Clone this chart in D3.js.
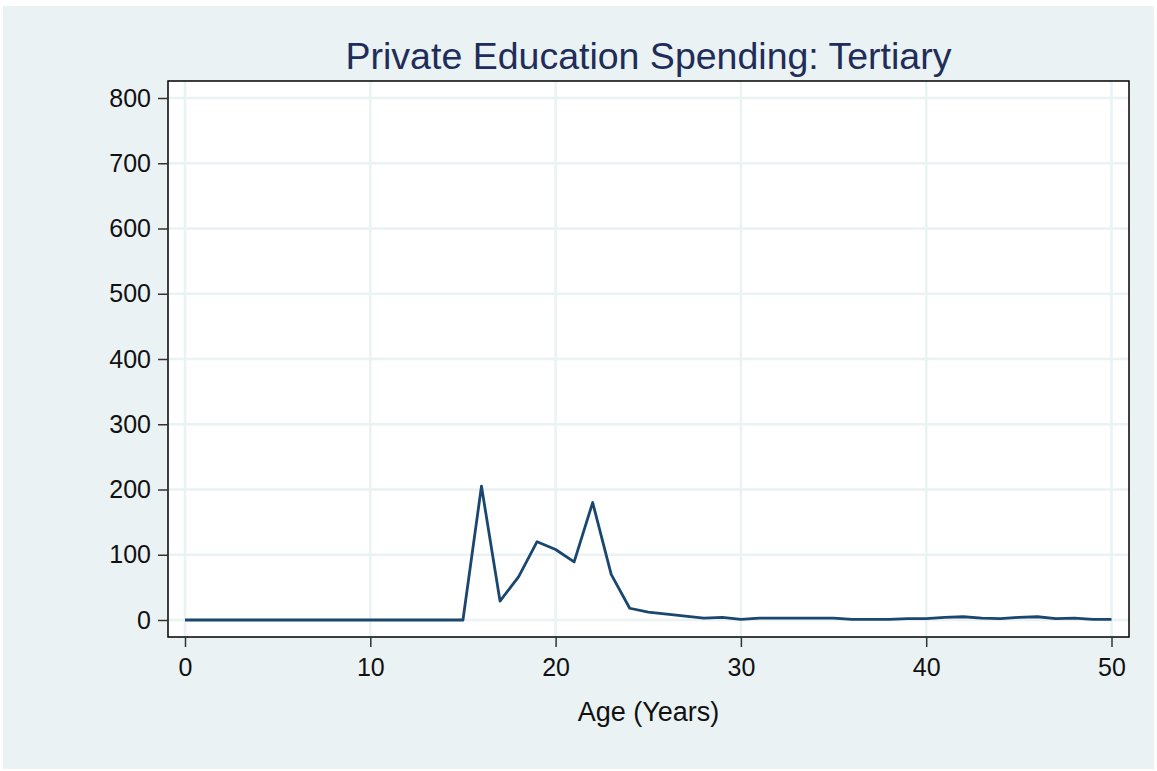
<!DOCTYPE html>
<html>
<head>
<meta charset="utf-8">
<script src="https://cdn.jsdelivr.net/npm/d3@7"></script>
<style>
  html, body { margin: 0; padding: 0; background: #ffffff; }
  svg { display: block; }
  text { font-family: "Liberation Sans", Arial, sans-serif; }
</style>
</head>
<body>
<svg id="chart" width="1157" height="771"></svg>
<script>
const titleText = "Private Education Spending: Tertiary";
const xLabel = "Age (Years)";
const ages = d3.range(0, 51);
const spending = [
  0, 0, 0, 0, 0, 0, 0, 0, 0, 0,
  0, 0, 0, 0, 0, 0, 205, 29, 66, 120,
  108, 89, 180, 70, 18, 12, 9, 6, 3, 4,
  1, 3, 3, 3, 3, 3, 1, 1, 1, 2,
  2, 4, 5, 3, 2, 4, 5, 2, 3, 1,
  1
];
const xTicks = [0, 10, 20, 30, 40, 50];
const yTicks = [0, 100, 200, 300, 400, 500, 600, 700, 800];

const W = 1157, H = 771;
const plot = { left: 168, top: 81, right: 1129, bottom: 637 };
const bg = "#eaf2f3";

const svg = d3.select("#chart");
svg.append("rect").attr("x", 3).attr("y", 6).attr("width", W - 6).attr("height", H - 8).attr("fill", bg);
svg.append("rect").attr("x", plot.left).attr("y", plot.top)
  .attr("width", plot.right - plot.left).attr("height", plot.bottom - plot.top)
  .attr("fill", "#ffffff");

const x = d3.scaleLinear().domain([0, 50]).range([185, 1111.5]);
const y = d3.scaleLinear().domain([0, 800]).range([620, 98]);

// grid
const g = svg.append("g");
g.selectAll("line.vx").data(xTicks).join("line")
  .attr("x1", d => x(d)).attr("x2", d => x(d))
  .attr("y1", plot.top).attr("y2", plot.bottom)
  .attr("stroke", bg).attr("stroke-width", 2.5);
g.selectAll("line.hy").data(yTicks).join("line")
  .attr("y1", d => y(d)).attr("y2", d => y(d))
  .attr("x1", plot.left).attr("x2", plot.right)
  .attr("stroke", bg).attr("stroke-width", 2.5);

// line
const line = d3.line().x((d, i) => x(ages[i])).y(d => y(d));
svg.append("path").datum(spending)
  .attr("d", line).attr("fill", "none")
  .attr("stroke", "#1a476f").attr("stroke-width", 2.8)
  .attr("stroke-linejoin", "round");

// border
svg.append("rect").attr("x", plot.left).attr("y", plot.top)
  .attr("width", plot.right - plot.left).attr("height", plot.bottom - plot.top)
  .attr("fill", "none").attr("stroke", "#000000").attr("stroke-width", 1.5);

// axes
const xAxis = d3.axisBottom(x).tickValues(xTicks).tickSize(10).tickPadding(11).tickFormat(d3.format("d"));
const xg = svg.append("g").attr("transform", `translate(0,${plot.bottom})`).call(xAxis);
xg.select(".domain").remove();
xg.selectAll("line").attr("stroke", "#333").attr("stroke-width", 1.5);
xg.selectAll("text").attr("font-size", 25).attr("fill", "#111").attr("font-family", "Liberation Sans, Arial, sans-serif");

const yAxis = d3.axisLeft(y).tickValues(yTicks).tickSize(10).tickPadding(7).tickFormat(d3.format("d"));
const yg = svg.append("g").attr("transform", `translate(${plot.left},0)`).call(yAxis);
yg.select(".domain").remove();
yg.selectAll("line").attr("stroke", "#333").attr("stroke-width", 1.5);
yg.selectAll("text").attr("font-size", 25).attr("fill", "#111").attr("font-family", "Liberation Sans, Arial, sans-serif");

svg.append("text").attr("x", (plot.left + plot.right) / 2).attr("y", 721)
  .attr("text-anchor", "middle").attr("font-size", 27).attr("fill", "#111")
  .text(xLabel);

svg.append("text").attr("x", (plot.left + plot.right) / 2).attr("y", 69)
  .attr("text-anchor", "middle").attr("font-size", 37.5).attr("fill", "#1e2d5a")
  .text(titleText);
</script>
</body>
</html>
